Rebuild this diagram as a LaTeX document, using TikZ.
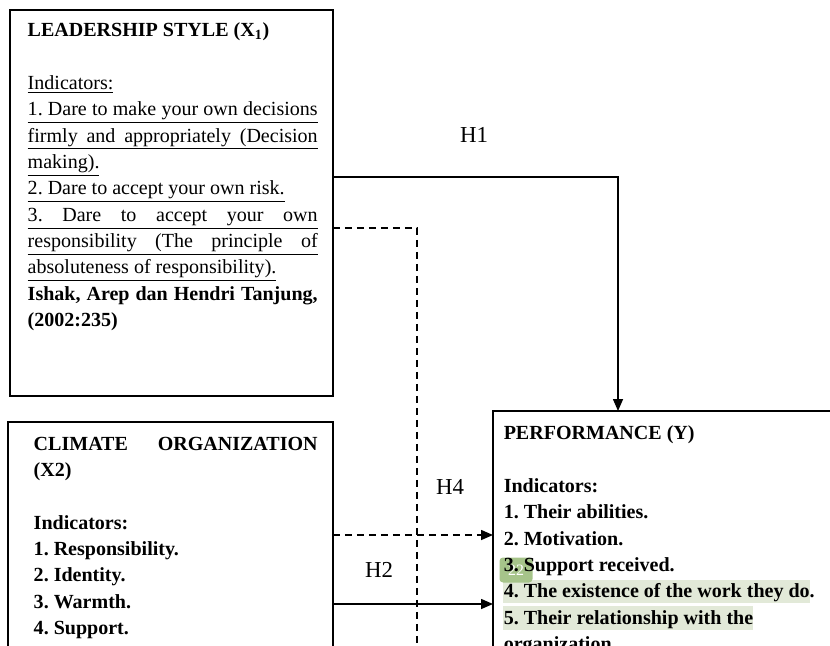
\documentclass[tikz,border=0pt]{standalone}
\usepackage{fontspec}
\setmainfont{Liberation Serif}
\usetikzlibrary{arrows.meta}
\usetikzlibrary{positioning}
\definecolor{hlgreen}{RGB}{226,233,216}
\definecolor{notegreen}{RGB}{166,196,138}
\newlength{\leadw}\setlength{\leadw}{5.8cm}
\newlength{\climw}\setlength{\climw}{5.68cm}
\newcommand{\ujust}[1]{\underline{\makebox[\leadw][s]{#1}}}
\frenchspacing

\begin{document}
\begin{tikzpicture}[x=0.02cm, y=-0.02cm, line width=0.85pt]
	\tikzstyle{frame}=[draw, rectangle, anchor=north west, inner sep=0pt, outer sep=0pt];
	\tikzstyle{txt}=[anchor=north west, inner sep=0pt, align=left,
	                        font=\fontsize{11.4}{15}\selectfont];
	\tikzstyle{hyp}=[inner sep=0pt, font=\fontsize{13}{15}\selectfont];
	\tikzstyle{link}=[-{Triangle[length=0.24cm, width=0.2cm]}];
	\tikzstyle{dashlink}=[dash pattern=on 0.14cm off 0.1cm];
	\useasboundingbox (0,0) rectangle (830,645);
	\clip (0,0) rectangle (830,645);
	\node[frame, minimum width=6.46cm, minimum height=7.72cm] (lead) at (10,10) {};
	\node[frame, minimum width=6.5cm, minimum height=6cm] (clim) at (8,422) {};
	\node[frame, minimum width=8cm, minimum height=6cm] (perf) at (493,411) {};
	\fill[hlgreen] (503,580) rectangle (810,603);
	\fill[hlgreen] (503,606) rectangle (753,630);
	\node[fill=notegreen, rounded corners=2pt, minimum width=0.66cm, minimum height=0.5cm,
	      inner sep=0pt, text=white, font=\fontsize{9}{9}\selectfont] (note) at (516,570) {22};
	\node[txt, below right=0.24cm and 0.34cm of lead.north west] (leadtxt) {%
	\textbf{LEADERSHIP STYLE (X\textsubscript{1})}\\[15pt]
	\underline{Indicators:}\\
	\ujust{1. Dare to make your own decisions}\\
	\ujust{firmly and appropriately (Decision}\\
	\underline{making).}\\
	\underline{2. Dare to accept your own risk.}\\
	\ujust{3. Dare to accept your own}\\
	\ujust{responsibility (The principle of}\\
	\underline{absoluteness of responsibility).}\\
	\textbf{\makebox[\leadw][s]{Ishak, Arep dan Hendri Tanjung,}}\\
	\textbf{(2002:235)}};
	\node[txt, below right=0.28cm and 0.5cm of clim.north west] (climtxt) {%
	\textbf{\makebox[\climw][s]{CLIMATE ORGANIZATION}}\\
	\textbf{(X2)}\\[15pt]
	\textbf{Indicators:}\\
	\textbf{1. Responsibility.}\\
	\textbf{2. Identity.}\\
	\textbf{3. Warmth.}\\
	\textbf{4. Support.}};
	\node[txt, below right=0.28cm and 0.2cm of perf.north west] (perftxt) {%
	\textbf{PERFORMANCE (Y)}\\[15pt]
	\textbf{Indicators:}\\
	\textbf{1. Their abilities.}\\
	\textbf{2. Motivation.}\\
	\textbf{3. Support received.}\\
	\textbf{4. The existence of the work they do.}\\
	\textbf{5. Their relationship with the}\\
	\textbf{organization.}};
	\coordinate (h4end) at (417,660);
	\draw[link] (lead.east |- 0,177) -| (perf.north -| 618,0);
	\draw[dashlink] (lead.east |- 0,228) -| (h4end);
	\draw[link, dashlink] (clim.east |- 0,535) -- (perf.west |- 0,535);
	\draw[link] (clim.east |- 0,604) -- (perf.west |- 0,604);
	\node[hyp] (h1) at (474,135) {H1};
	\node[hyp] (h4) at (450,487) {H4};
	\node[hyp] (h2) at (379,570) {H2};
\end{tikzpicture}
\end{document}
